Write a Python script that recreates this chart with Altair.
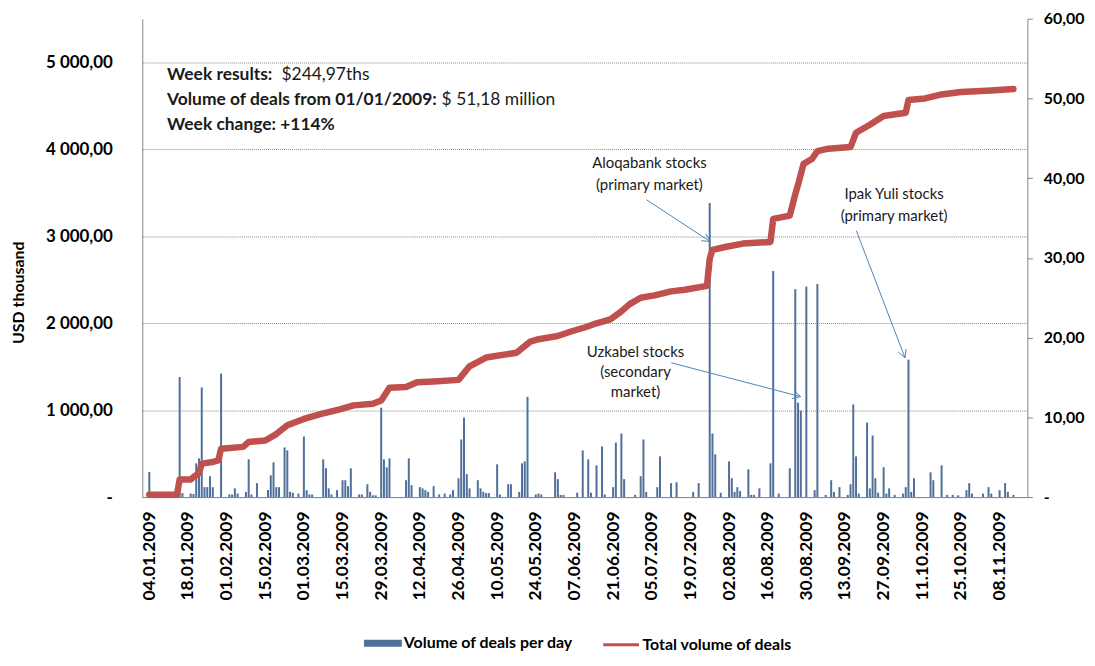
import math
import altair as alt
import pandas as pd

# ---------------- data ----------------
bar_dates = [
    "2009-01-04", "2009-01-15", "2009-01-16", "2009-01-19", "2009-01-20", "2009-01-21", "2009-01-22",
    "2009-01-23", "2009-01-24", "2009-01-25", "2009-01-26", "2009-01-27", "2009-01-30", "2009-02-02",
    "2009-02-03", "2009-02-04", "2009-02-05", "2009-02-08", "2009-02-09", "2009-02-10", "2009-02-12",
    "2009-02-16", "2009-02-17", "2009-02-18", "2009-02-19", "2009-02-20", "2009-02-22", "2009-02-23",
    "2009-02-24", "2009-02-25", "2009-02-27", "2009-03-01", "2009-03-02", "2009-03-03", "2009-03-04",
    "2009-03-08", "2009-03-09", "2009-03-10", "2009-03-11", "2009-03-13", "2009-03-15", "2009-03-16",
    "2009-03-17", "2009-03-18", "2009-03-21", "2009-03-22", "2009-03-24", "2009-03-25", "2009-03-26",
    "2009-03-27", "2009-03-29", "2009-03-30", "2009-03-31", "2009-04-01", "2009-04-07", "2009-04-08",
    "2009-04-09", "2009-04-12", "2009-04-13", "2009-04-14", "2009-04-15", "2009-04-17", "2009-04-19",
    "2009-04-21", "2009-04-23", "2009-04-24", "2009-04-26", "2009-04-27", "2009-04-28", "2009-04-29",
    "2009-04-30", "2009-05-03", "2009-05-04", "2009-05-05", "2009-05-06", "2009-05-07", "2009-05-10",
    "2009-05-11", "2009-05-14", "2009-05-15", "2009-05-18", "2009-05-19", "2009-05-20", "2009-05-21",
    "2009-05-24", "2009-05-25", "2009-05-26", "2009-05-31", "2009-06-01", "2009-06-02", "2009-06-03",
    "2009-06-08", "2009-06-10", "2009-06-12", "2009-06-13", "2009-06-15", "2009-06-17", "2009-06-18",
    "2009-06-21", "2009-06-22", "2009-06-24", "2009-06-25", "2009-06-29", "2009-07-01", "2009-07-02",
    "2009-07-03", "2009-07-07", "2009-07-08", "2009-07-12", "2009-07-14", "2009-07-20", "2009-07-22",
    "2009-07-26", "2009-07-27", "2009-07-28", "2009-07-30", "2009-08-02", "2009-08-03", "2009-08-04",
    "2009-08-05", "2009-08-06", "2009-08-09", "2009-08-10", "2009-08-11", "2009-08-13", "2009-08-17",
    "2009-08-18", "2009-08-20", "2009-08-24", "2009-08-26", "2009-08-27", "2009-08-28", "2009-08-30",
    "2009-09-02", "2009-09-03", "2009-09-06", "2009-09-08", "2009-09-09", "2009-09-11", "2009-09-14",
    "2009-09-15", "2009-09-16", "2009-09-17", "2009-09-18", "2009-09-21", "2009-09-22", "2009-09-23",
    "2009-09-24", "2009-09-25", "2009-09-27", "2009-09-28", "2009-09-29", "2009-10-01", "2009-10-04",
    "2009-10-05", "2009-10-06", "2009-10-07", "2009-10-08", "2009-10-14", "2009-10-15", "2009-10-18",
    "2009-10-20", "2009-10-22", "2009-10-24", "2009-10-27", "2009-10-28", "2009-10-29", "2009-11-02",
    "2009-11-04", "2009-11-05", "2009-11-08", "2009-11-10", "2009-11-11", "2009-11-13",
]
bar_values = [
    289, 1380, 46, 40, 35, 388, 445,
    1260, 114, 114, 240, 114, 1420, 30,
    30, 100, 40, 60, 434, 30, 160,
    80, 251, 400, 114, 114, 571, 537,
    60, 50, 40, 697, 80, 30, 30,
    434, 331, 100, 30, 80, 194, 194,
    126, 331, 30, 30, 148, 60, 20,
    20, 1028, 434, 343, 445, 194, 445,
    137, 114, 100, 80, 60, 126, 30,
    40, 30, 80, 217, 662, 914, 263,
    100, 194, 100, 60, 45, 45, 377,
    30, 148, 148, 60, 388, 411, 1153,
    30, 40, 30, 285, 206, 25, 25,
    50, 537, 434, 50, 365, 582, 30,
    114, 628, 731, 206, 25, 240, 662,
    60, 114, 468, 160, 171, 60, 160,
    3380, 731, 491, 50, 411, 217, 60,
    114, 69, 320, 25, 25, 100, 388,
    2600, 40, 331, 2390, 1085, 994, 2420,
    80, 2450, 25, 194, 60, 114, 25,
    148, 1065, 468, 40, 857, 100, 708,
    217, 50, 343, 40, 100, 25, 40,
    114, 1580, 60, 217, 285, 194, 365,
    25, 25, 20, 80, 160, 40, 40,
    114, 40, 80, 160, 60, 25,
]

line_dates = [
    "2009-01-04", "2009-01-14", "2009-01-15", "2009-01-19", "2009-01-20", "2009-01-22", "2009-01-23",
    "2009-01-27", "2009-01-29", "2009-01-30", "2009-02-07", "2009-02-09", "2009-02-15", "2009-02-19",
    "2009-02-23", "2009-03-01", "2009-03-07", "2009-03-14", "2009-03-19", "2009-03-26", "2009-03-29",
    "2009-04-01", "2009-04-07", "2009-04-11", "2009-04-17", "2009-04-26", "2009-04-30", "2009-05-06",
    "2009-05-17", "2009-05-22", "2009-05-25", "2009-06-01", "2009-06-06", "2009-06-11", "2009-06-15",
    "2009-06-20", "2009-06-24", "2009-06-27", "2009-07-01", "2009-07-06", "2009-07-12", "2009-07-17",
    "2009-07-25", "2009-07-26", "2009-07-27", "2009-08-01", "2009-08-07", "2009-08-17", "2009-08-18",
    "2009-08-24", "2009-08-26", "2009-08-27", "2009-08-29", "2009-09-01", "2009-09-03", "2009-09-07",
    "2009-09-15", "2009-09-17", "2009-09-22", "2009-09-27", "2009-10-05", "2009-10-06", "2009-10-12",
    "2009-10-18", "2009-10-25", "2009-11-05", "2009-11-13",
]
line_values = [
    0.3, 0.3, 2.2, 2.2, 2.5, 3.0, 4.2,
    4.4, 4.6, 6.06, 6.3, 6.9, 7.1, 7.9,
    9.0, 9.8, 10.4, 11.0, 11.5, 11.7, 12.1,
    13.7, 13.8, 14.4, 14.5, 14.7, 16.4, 17.5,
    18.1, 19.5, 19.8, 20.2, 20.8, 21.3, 21.8,
    22.3, 23.3, 24.2, 25.0, 25.3, 25.8, 26.0,
    26.5, 29.9, 31.0, 31.4, 31.8, 32.0, 34.9,
    35.3, 38.0, 39.2, 41.8, 42.4, 43.4, 43.7,
    43.9, 45.7, 46.7, 47.8, 48.2, 49.8, 50.0,
    50.5, 50.8, 51.0, 51.18,
]

tick_dates = [
    "2009-01-04", "2009-01-18", "2009-02-01", "2009-02-15", "2009-03-01", "2009-03-15",
    "2009-03-29", "2009-04-12", "2009-04-26", "2009-05-10", "2009-05-24", "2009-06-07",
    "2009-06-21", "2009-07-05", "2009-07-19", "2009-08-02", "2009-08-16", "2009-08-30",
    "2009-09-13", "2009-09-27", "2009-10-11", "2009-10-25", "2009-11-08",
]
left_ticks = [0, 1000, 2000, 3000, 4000, 5000]
right_ticks = [0, 10, 20, 30, 40, 50, 60]

bar_series = "Volume of deals per day"
line_series = "Total volume of deals"

bars_df = pd.DataFrame({"date": bar_dates, "volume": bar_values, "series": bar_series})
line_df = pd.DataFrame({"date": line_dates, "total": line_values, "series": line_series})

# ---------------- styling ----------------
FONT = "Lato"
BAR_COLOR = "#50709a"
LINE_COLOR = "#c0504d"
AXIS_GRAY = "#868686"
ARROW_COLOR = "#4f81bd"
TEXT_COLOR = "#1a1a1a"


def dt(s, h=0):
    y, m, d = (int(p) for p in s.split("-"))
    return alt.DateTime(year=y, month=m, date=d, hours=h, utc=True)


x_scale = alt.Scale(type="utc", domain=[dt("2009-01-03", 6), dt("2009-11-16", 6)])
x_axis = alt.Axis(
    values=[dt(s) for s in tick_dates],
    labelExpr="utcFormat(datum.value, '%d.%m.%Y')",
    labelAngle=270,
    labelFont=FONT, labelFontSize=17.5, labelFontWeight="bold", labelColor="black",
    labelPadding=14, labelOverlap=False, labelFlush=False,
    ticks=False, grid=False, domainColor=AXIS_GRAY, title=None,
)
x_enc = alt.X("date:T", scale=x_scale, axis=x_axis)

left_axis = alt.Axis(
    orient="left", values=left_ticks,
    labelExpr="datum.value == 0 ? '-' : replace(replace(format(datum.value, ',.2f'), ',', ' '), '.', ',')",
    labelFont=FONT, labelFontSize=17, labelFontWeight="bold", labelColor="black",
    labelPadding=30, ticks=False, domainColor=AXIS_GRAY,
    grid=True, gridDash=[1, 1], gridColor="#8a8a8a", gridWidth=1,
    title="USD thousand", titleFont=FONT, titleFontSize=16, titleFontWeight="bold",
    titleColor="black", titlePadding=20, titleY=275, minExtent=96, maxExtent=96,
)
right_axis = alt.Axis(
    orient="right", values=right_ticks,
    labelExpr="datum.value == 0 ? '-' : replace(format(datum.value, '.2f'), '.', ',')",
    labelFont=FONT, labelFontSize=16, labelFontWeight="bold", labelColor="black",
    labelPadding=11, tickSize=5, tickColor=AXIS_GRAY, domainColor=AXIS_GRAY,
    grid=False, title=None,
)

bars = alt.Chart(bars_df).mark_bar(size=2).encode(
    x=x_enc,
    y=alt.Y("volume:Q", scale=alt.Scale(domain=[0, 5500], nice=False), axis=left_axis),
    color=alt.Color(
        "series:N",
        scale=alt.Scale(domain=[bar_series], range=[BAR_COLOR]),
        legend=alt.Legend(
            orient="none", legendX=223, legendY=609, title=None, padding=0,
            symbolType="M-1,-0.18L1,-0.18L1,0.18L-1,0.18Z", symbolSize=1444,
            symbolStrokeWidth=0, labelOffset=2, labelLimit=0,
            labelFont=FONT, labelFontSize=16, labelFontWeight="bold", labelColor="black",
        ),
    ),
)

line = alt.Chart(line_df).mark_line(strokeWidth=6.5, strokeJoin="round", strokeCap="round").encode(
    x=x_enc,
    y=alt.Y("total:Q", scale=alt.Scale(domain=[0, 60], nice=False), axis=right_axis),
    color=alt.Color(
        "series:N",
        scale=alt.Scale(domain=[line_series], range=[LINE_COLOR]),
        legend=alt.Legend(
            orient="none", legendX=462, legendY=610, title=None, padding=0,
            symbolType="stroke", symbolSize=1296, symbolStrokeWidth=3, labelOffset=2,
            labelLimit=0,
            labelFont=FONT, labelFontSize=16, labelFontWeight="bold", labelColor="black",
        ),
    ),
)

one = alt.InlineData(values=[{"k": 1}])


def seg(x1, y1, x2, y2):
    return alt.Chart(one).mark_rule(color=ARROW_COLOR, strokeWidth=1).encode(
        x=alt.value(x1), y=alt.value(y1), x2=alt.value(x2), y2=alt.value(y2)
    )


def arrow(x1, y1, x2, y2, head=9, spread=28):
    out = [seg(x1, y1, x2, y2)]
    ang = math.atan2(y2 - y1, x2 - x1)
    for s in (1, -1):
        a = ang + math.pi + s * math.radians(spread)
        out.append(seg(x2, y2, x2 + head * math.cos(a), y2 + head * math.sin(a)))
    return out


def label(lines, x, y, size=15, weight="normal", align="center", line_height=22):
    # y is the centre of the first line
    return alt.Chart(one).mark_text(
        text=lines, font=FONT, fontSize=size, fontWeight=weight, color=TEXT_COLOR,
        align=align, baseline="middle", lineHeight=line_height,
    ).encode(x=alt.value(x), y=alt.value(y))


annotations = []
annotations += arrow(507, 182, 571, 224)
annotations += arrow(532, 346, 662, 380)
annotations += arrow(718, 213, 767, 341)
annotations.append(label(["Aloqabank stocks", "(primary market)"], 510, 145))
annotations.append(label(["Uzkabel stocks", "(secondary", "market)"], 496, 335, line_height=20))
annotations.append(label(["Ipak Yuli stocks", "(primary market)"], 756, 176))
annotations.append(label(["Week results:", "Volume of deals from 01/01/2009:", "Week change:  +114%"],
                         25, 57, size=17.5, weight="bold", align="left", line_height=25))
annotations.append(label(["$244,97ths"], 140, 57, size=17.5, align="left"))
annotations.append(label(["$ 51,18 million"], 301, 82, size=17.5, align="left"))

chart = (
    alt.layer(bars, line, *annotations)
    .resolve_scale(y="independent", color="independent")
    .properties(
        width=890, height=481,
        padding={"left": 135, "top": 9, "right": 60, "bottom": 155},
        autosize=alt.AutoSizeParams(type="none"),
        background="white",
    )
    .configure_view(strokeWidth=0)
)

chart.save("out.html", embed_options={"renderer": "svg", "actions": False})
